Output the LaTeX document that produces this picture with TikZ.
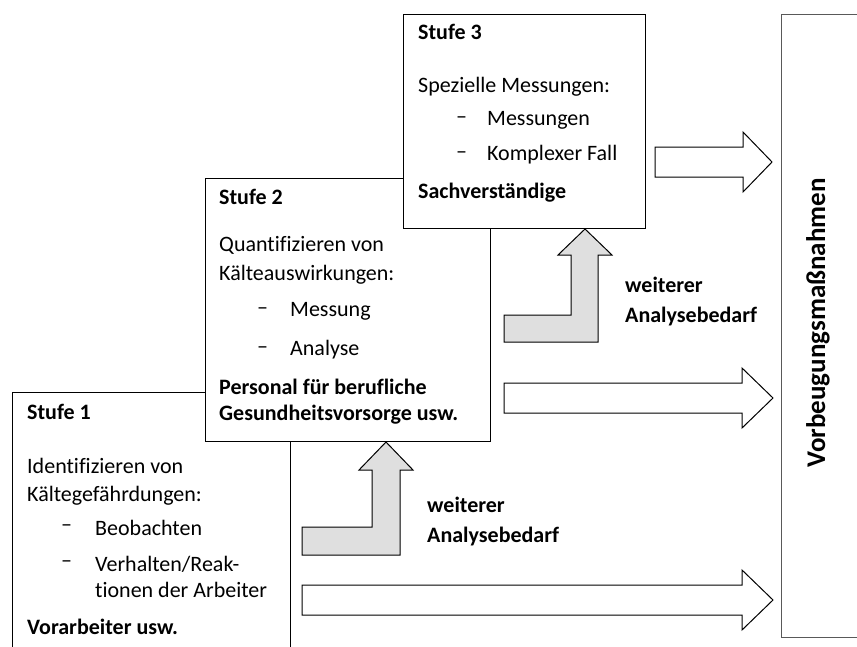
\documentclass[tikz,border=0pt]{standalone}
\usepackage{fontspec}
\setmainfont{Carlito}[Ligatures=NoCommon]
\begin{document}
\begin{tikzpicture}[x=1pt,y=-1pt,
  box/.style={draw=black,line width=1pt,fill=white},
  txt/.style={anchor=west,inner sep=0pt,font=\fontsize{22}{26}\selectfont},
  btxt/.style={txt,font=\fontsize{22}{26}\selectfont\bfseries},
  dashmark/.style={anchor=west,inner sep=0pt,font=\fontsize{22}{26}\selectfont},
  hollowarrow/.style={draw=black,line width=1pt,fill=white,line join=miter},
  bentarrow/.style={draw=black,line width=1pt,fill=gray!25,line join=miter}]
\useasboundingbox (0,0) rectangle (857,646);
% right box
\draw[draw=gray!70!black,line width=1pt,fill=white] (781,14) rectangle (870,637);
\node[rotate=90,inner sep=0pt,font=\fontsize{27}{30}\selectfont\bfseries] (vm) at (818,323) {Vorbeugungsmaßnahmen};
% boxes
\draw[box] (12,392) rectangle (290,670);
\draw[box] (205,178) rectangle (490,441);
\draw[box] (403,14) rectangle (645,228);
% Stufe 3 text
\node[btxt] (s3h) at (418,32) {Stufe 3};
\node[txt] (s3a) at (418,87) {Spezielle Messungen:};
\node[dashmark] (s3d1) at (456,120) {–};
\node[txt] (s3b) at (487,120) {Messungen};
\node[dashmark] (s3d2) at (456,155) {–};
\node[txt] (s3c) at (487,155) {Komplexer Fall};
\node[btxt] (s3e) at (418,193) {Sachverständige};
% Stufe 2 text
\node[btxt] (s2h) at (219,197) {Stufe 2};
\node[txt] (s2a) at (219,245) {Quantifizieren von};
\node[txt] (s2b) at (219,275) {Kälteauswirkungen:};
\node[dashmark] (s2d1) at (257,311) {–};
\node[txt] (s2c) at (290,311) {Messung};
\node[dashmark] (s2d2) at (257,350) {–};
\node[txt] (s2d) at (290,350) {Analyse};
\node[btxt] (s2e) at (219,387) {Personal für berufliche};
\node[btxt] (s2f) at (219,415) {Gesundheitsvorsorge usw.};
% Stufe 1 text
\node[btxt] (s1h) at (27,412) {Stufe 1};
\node[txt] (s1a) at (27,466) {Identifizieren von};
\node[txt] (s1b) at (27,496) {Kältegefährdungen:};
\node[dashmark] (s1d1) at (61,528) {–};
\node[txt] (s1c) at (95,528) {Beobachten};
\node[dashmark] (s1d2) at (61,564) {–};
\node[txt] (s1d) at (95,564) {Verhalten/Reak-};
\node[txt] (s1e) at (95,590) {tionen der Arbeiter};
\node[btxt] (s1f) at (27,627) {Vorarbeiter usw.};
% bent arrows
\draw[bentarrow] (585,229) -- (612,255) -- (598,255) -- (598,342) -- (504,342) -- (504,315) -- (571,315) -- (571,255) -- (558,255) -- cycle;
\draw[bentarrow] (386,442) -- (413,470) -- (400,470) -- (400,555) -- (302,555) -- (302,527) -- (372,527) -- (372,470) -- (359,470) -- cycle;
\node[btxt] (w1a) at (625,285) {weiterer};
\node[btxt] (w1b) at (625,317) {Analysebedarf};
\node[btxt] (w2a) at (427,505) {weiterer};
\node[btxt] (w2b) at (427,537) {Analysebedarf};
% right arrows
\draw[hollowarrow] (655,147) -- (743,147) -- (743,132) -- (772,162) -- (743,192) -- (743,177) -- (655,177) -- cycle;
\draw[hollowarrow] (504,383) -- (742,383) -- (742,368) -- (773,398) -- (742,428) -- (742,413) -- (504,413) -- cycle;
\draw[hollowarrow] (302,585) -- (742,585) -- (742,570) -- (773,600) -- (742,630) -- (742,615) -- (302,615) -- cycle;
\end{tikzpicture}
\end{document}
